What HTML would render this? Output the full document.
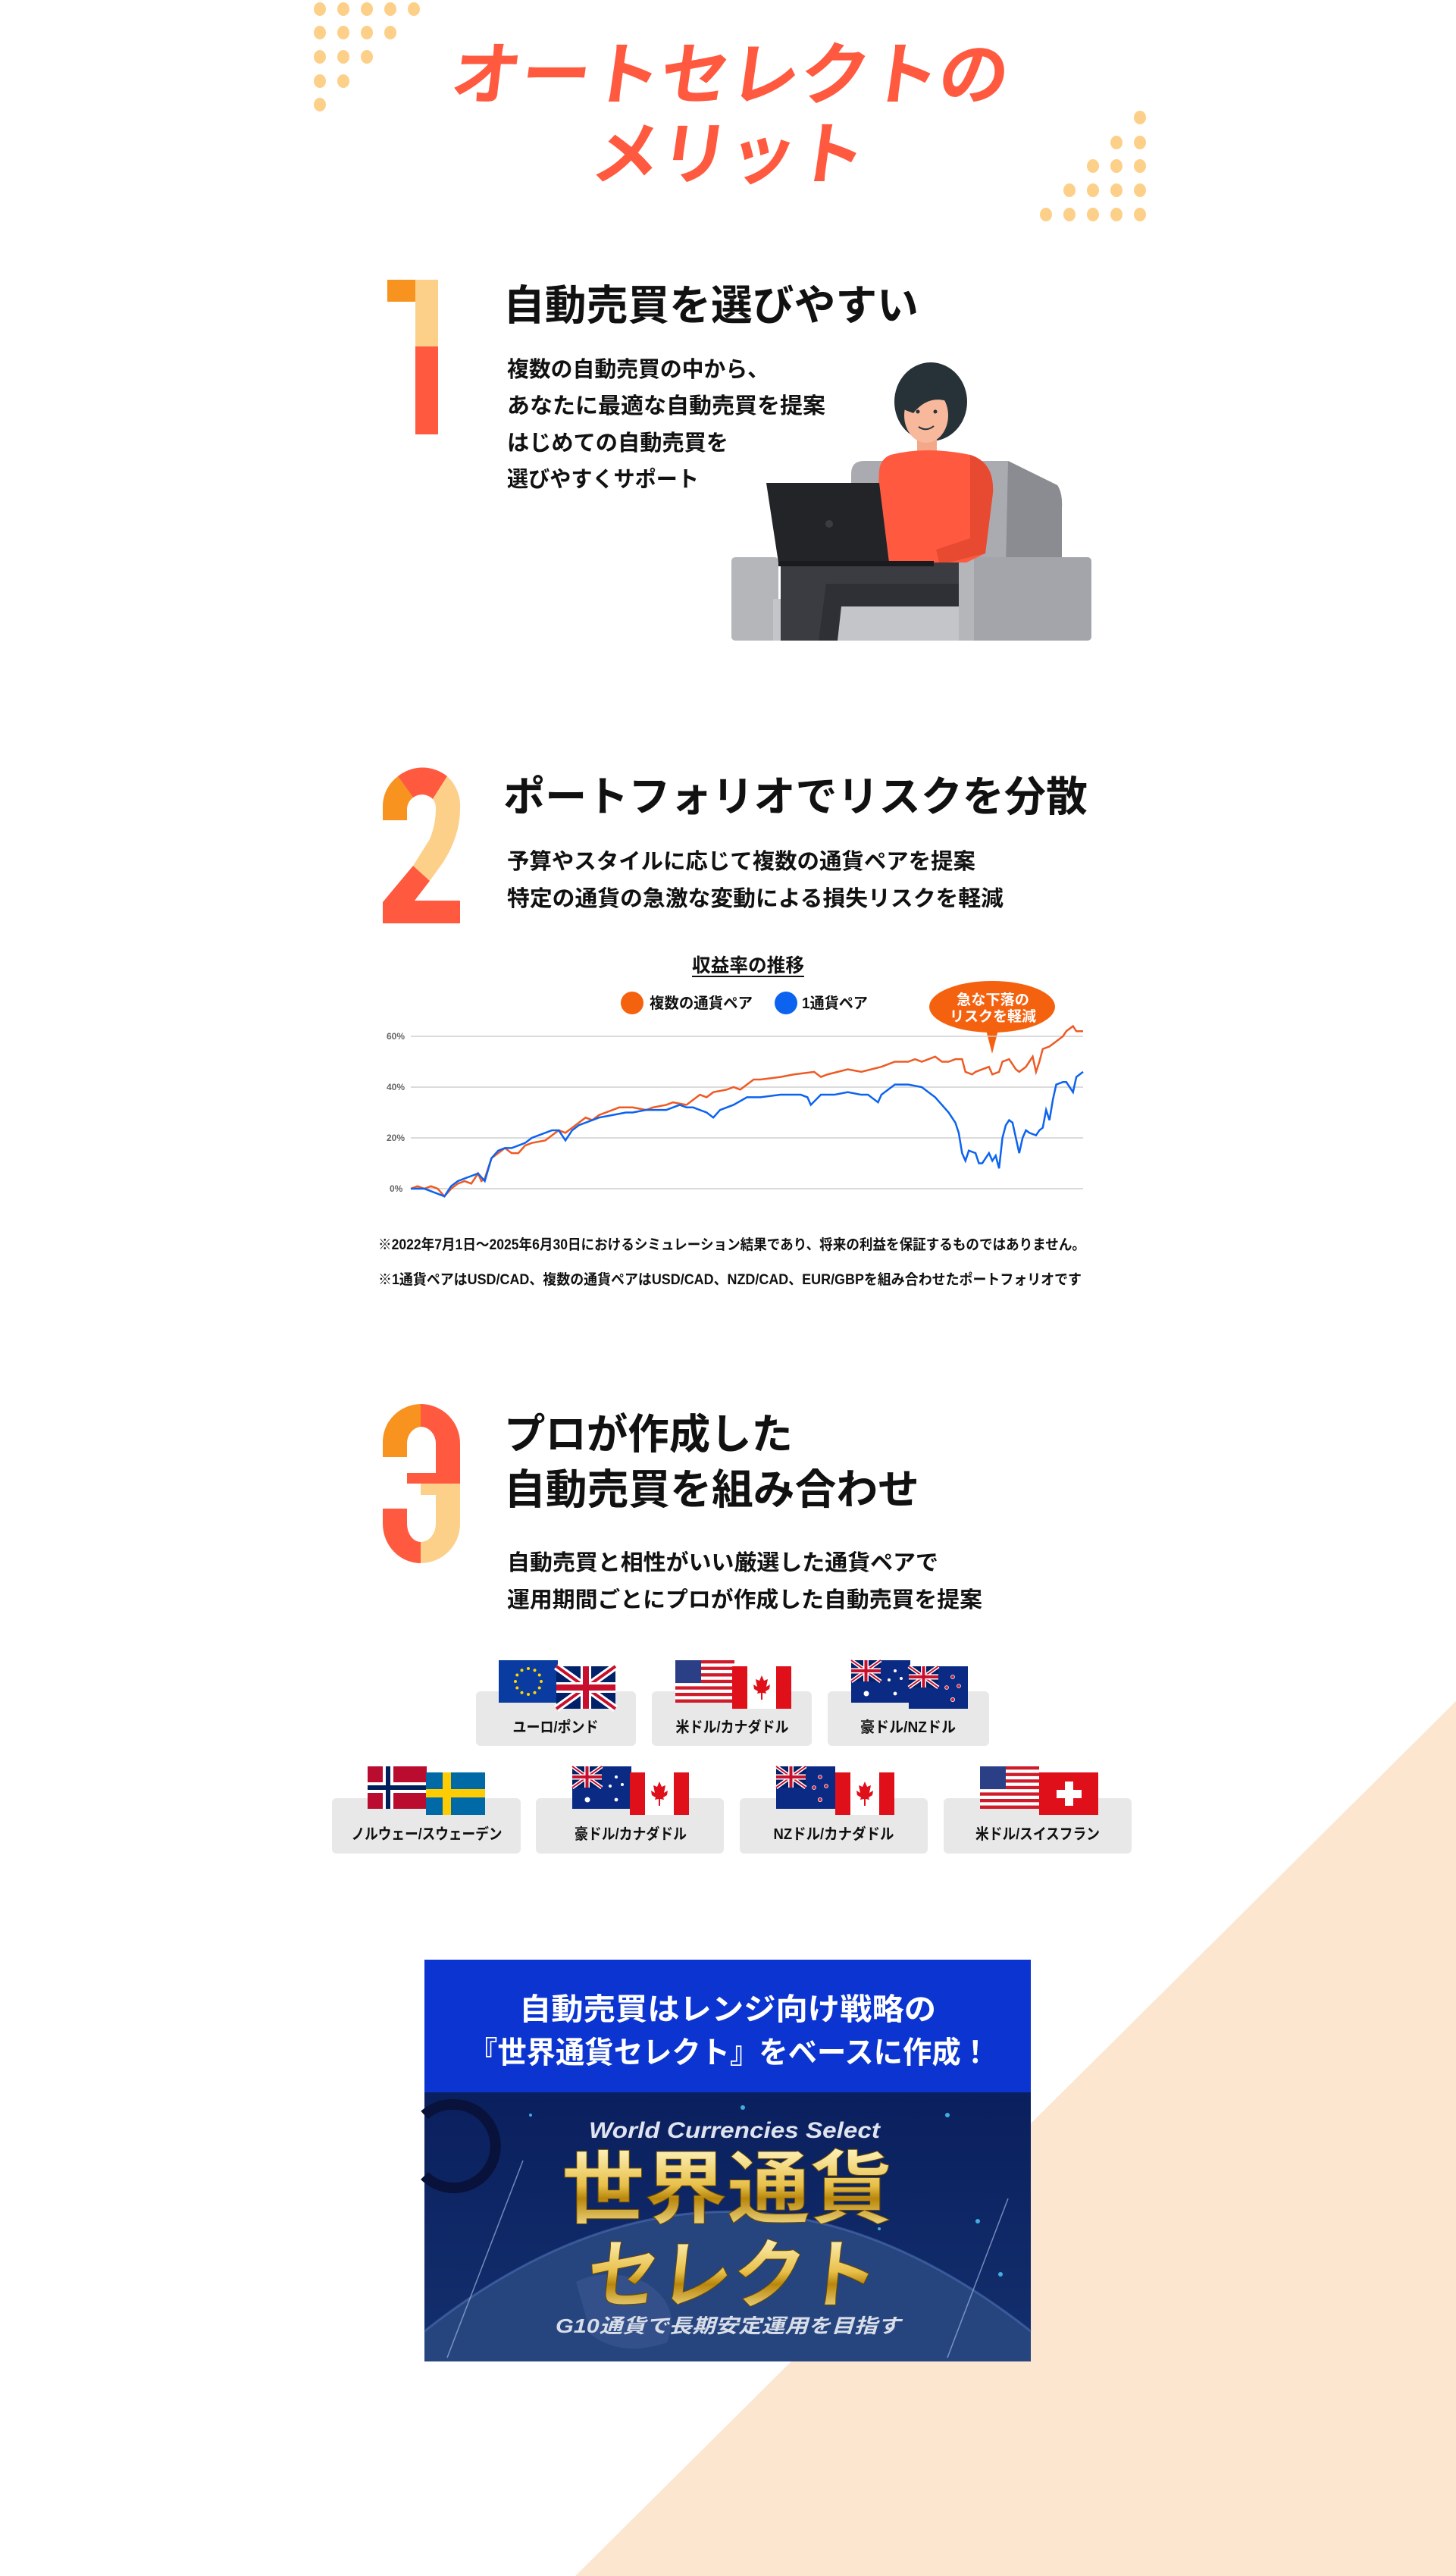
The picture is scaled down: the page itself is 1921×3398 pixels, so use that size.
<!DOCTYPE html>
<html><head><meta charset="utf-8"><style>
html,body{margin:0;padding:0;background:#fff;width:1921px;height:3398px;overflow:hidden;}
svg{display:block;}
text{font-family:"Liberation Sans","Noto Sans CJK JP",sans-serif;font-weight:bold;}
</style></head><body>
<svg width="1921" height="3398" viewBox="0 0 1921 3398" xmlns="http://www.w3.org/2000/svg">
<defs>
<linearGradient id="gold" x1="0" y1="0" x2="0" y2="1">
<stop offset="0" stop-color="#fff6c4"/><stop offset="0.45" stop-color="#e8c04a"/><stop offset="0.6" stop-color="#b8860b"/><stop offset="1" stop-color="#fff1a8"/>
</linearGradient>
<linearGradient id="navy" x1="0" y1="0" x2="0" y2="1">
<stop offset="0" stop-color="#0a1f5e"/><stop offset="1" stop-color="#14306e"/>
</linearGradient>
<g id="uk"><rect width="78" height="56" fill="#012169"/><path d="M0,0L78,56M78,0L0,56" stroke="#fff" stroke-width="10"/><path d="M0,0L78,56M78,0L0,56" stroke="#c8102e" stroke-width="4"/><path d="M39,0V56M0,28H78" stroke="#fff" stroke-width="14"/><path d="M39,0V56M0,28H78" stroke="#c8102e" stroke-width="8"/></g>
<g id="eu"><rect width="78" height="56" fill="#0a3ba0"/><g fill="#ffd700"><circle cx="39" cy="11" r="2"/><circle cx="47.5" cy="13.3" r="2"/><circle cx="53.7" cy="19.5" r="2"/><circle cx="56" cy="28" r="2"/><circle cx="53.7" cy="36.5" r="2"/><circle cx="47.5" cy="42.7" r="2"/><circle cx="39" cy="45" r="2"/><circle cx="30.5" cy="42.7" r="2"/><circle cx="24.3" cy="36.5" r="2"/><circle cx="22" cy="28" r="2"/><circle cx="24.3" cy="19.5" r="2"/><circle cx="30.5" cy="13.3" r="2"/></g></g>
<g id="us"><rect width="78" height="56" fill="#fff"/><g fill="#d01c2a"><rect y="0" width="78" height="4.3"/><rect y="8.6" width="78" height="4.3"/><rect y="17.2" width="78" height="4.3"/><rect y="25.8" width="78" height="4.3"/><rect y="34.4" width="78" height="4.3"/><rect y="43" width="78" height="4.3"/><rect y="51.6" width="78" height="4.4"/></g><rect width="34" height="30" fill="#2a3f86"/></g>
<g id="ca"><rect width="78" height="56" fill="#fff"/><rect width="20" height="56" fill="#e0101a"/><rect x="58" width="20" height="56" fill="#e0101a"/><path d="M39,12L42,19L47,17L45,27L50,24L49,30L44,33L45,36L40,35V44H38V35L33,36L34,33L29,30L28,24L33,27L31,17L36,19Z" fill="#e0101a"/></g>
<g id="au"><rect width="78" height="56" fill="#0b2a84"/><g transform="scale(0.5)"><use href="#uk"/></g><g fill="#fff"><circle cx="20" cy="44" r="3.5"/><circle cx="58" cy="14" r="2"/><circle cx="50" cy="26" r="2"/><circle cx="66" cy="24" r="2"/><circle cx="58" cy="44" r="2.4"/></g></g>
<g id="nz"><rect width="78" height="56" fill="#0b2a84"/><g transform="scale(0.5)"><use href="#uk"/></g><g fill="#d0203a" stroke="#fff" stroke-width="0.8"><circle cx="58" cy="14" r="2.4"/><circle cx="50" cy="28" r="2.4"/><circle cx="66" cy="26" r="2.4"/><circle cx="58" cy="44" r="2.6"/></g></g>
<g id="no"><rect width="78" height="56" fill="#ba0c2f"/><rect x="20" width="14" height="56" fill="#fff"/><rect y="21" width="78" height="14" fill="#fff"/><rect x="24" width="6" height="56" fill="#00205b"/><rect y="25" width="78" height="6" fill="#00205b"/></g>
<g id="se"><rect width="78" height="56" fill="#006aa7"/><rect x="22" width="11" height="56" fill="#fecc02"/><rect y="22" width="78" height="11" fill="#fecc02"/></g>
<g id="ch"><rect width="78" height="56" fill="#e0101a"/><rect x="34" y="12" width="11" height="32" fill="#fff"/><rect x="23" y="23" width="33" height="11" fill="#fff"/></g>
</defs>

<polygon points="1921,2244 1921,3398 759,3398" fill="#fce6cf"/>

<g fill="#fdd08a">
<ellipse cx="422" cy="12" rx="8" ry="9"/><ellipse cx="453" cy="12" rx="8" ry="9"/><ellipse cx="484" cy="12" rx="8" ry="9"/><ellipse cx="515" cy="12" rx="8" ry="9"/><ellipse cx="546" cy="12" rx="8" ry="9"/>
<ellipse cx="422" cy="43" rx="8" ry="9"/><ellipse cx="453" cy="43" rx="8" ry="9"/><ellipse cx="484" cy="43" rx="8" ry="9"/><ellipse cx="515" cy="43" rx="8" ry="9"/>
<ellipse cx="422" cy="75" rx="8" ry="9"/><ellipse cx="453" cy="75" rx="8" ry="9"/><ellipse cx="484" cy="75" rx="8" ry="9"/>
<ellipse cx="422" cy="107" rx="8" ry="9"/><ellipse cx="453" cy="107" rx="8" ry="9"/>
<ellipse cx="422" cy="138" rx="8" ry="9"/>
<ellipse cx="1504" cy="155" rx="8" ry="9"/>
<ellipse cx="1473" cy="188" rx="8" ry="9"/><ellipse cx="1504" cy="188" rx="8" ry="9"/>
<ellipse cx="1442" cy="219" rx="8" ry="9"/><ellipse cx="1473" cy="219" rx="8" ry="9"/><ellipse cx="1504" cy="219" rx="8" ry="9"/>
<ellipse cx="1411" cy="251" rx="8" ry="9"/><ellipse cx="1442" cy="251" rx="8" ry="9"/><ellipse cx="1473" cy="251" rx="8" ry="9"/><ellipse cx="1504" cy="251" rx="8" ry="9"/>
<ellipse cx="1380" cy="283" rx="8" ry="9"/><ellipse cx="1411" cy="283" rx="8" ry="9"/><ellipse cx="1442" cy="283" rx="8" ry="9"/><ellipse cx="1473" cy="283" rx="8" ry="9"/><ellipse cx="1504" cy="283" rx="8" ry="9"/>
</g>

<g fill="#ff5a40">
<text x="594" y="130" font-size="90" textLength="735" lengthAdjust="spacingAndGlyphs" transform="skewX(-8) translate(16,0)">オートセレクトの</text>
<text x="780" y="235" font-size="90" textLength="360" lengthAdjust="spacingAndGlyphs" transform="skewX(-8) translate(30,0)">メリット</text>
</g>

<rect x="511" y="369" width="37" height="29" fill="#f7931e"/>
<rect x="548" y="369" width="30" height="88" fill="#fdd08a"/>
<rect x="548" y="457" width="30" height="116" fill="#ff5a40"/>
<text x="664" y="422" font-size="55" textLength="548" lengthAdjust="spacingAndGlyphs" fill="#111">自動売買を選びやすい</text>
<g font-size="29" fill="#111">
<text x="669" y="497" textLength="346" lengthAdjust="spacingAndGlyphs">複数の自動売買の中から、</text>
<text x="669" y="545" textLength="420" lengthAdjust="spacingAndGlyphs">あなたに最適な自動売買を提案</text>
<text x="669" y="594" textLength="292" lengthAdjust="spacingAndGlyphs">はじめての自動売買を</text>
<text x="669" y="642" textLength="253" lengthAdjust="spacingAndGlyphs">選びやすくサポート</text>
</g>
<path d="M1128,608 H1330 L1395,640 Q1402,650 1401,670 V843 H1123 V625 Q1123,608 1140,608Z" fill="#a9abb0"/>
<path d="M1330,608 L1395,640 Q1402,650 1401,670 V843 H1325Z" fill="#8a8c92"/>
<rect x="965" y="735" width="62" height="110" rx="5" fill="#b4b6ba"/>
<rect x="1020" y="790" width="260" height="55" fill="#c3c5c9"/>
<rect x="1265" y="735" width="175" height="110" rx="5" fill="#a3a5aa"/>
<rect x="1265" y="735" width="20" height="110" fill="#b4b6ba"/>
<ellipse cx="1228" cy="530" rx="48" ry="52" fill="#263238"/>
<ellipse cx="1226" cy="500" rx="34" ry="16" fill="#263238"/>
<rect x="1210" y="570" width="26" height="35" fill="#f3a989"/>
<ellipse cx="1222" cy="548" rx="29" ry="36" fill="#f7b89c"/>
<path d="M1192,540 Q1200,500 1250,510 L1252,530 Q1225,520 1205,545Z" fill="#263238"/>
<circle cx="1211" cy="543" r="2.5" fill="#263238"/><circle cx="1234" cy="543" r="2.5" fill="#263238"/>
<path d="M1212,563 Q1222,570 1232,562" fill="none" stroke="#263238" stroke-width="2"/>
<path d="M1175,600 Q1222,588 1280,600 Q1312,610 1310,650 L1300,730 L1275,742 H1154 L1160,620 Q1162,605 1175,600Z" fill="#ff5a40"/>
<path d="M1280,600 Q1312,610 1310,650 L1300,730 L1240,745 L1235,725 L1280,710Z" fill="#e84a31"/>
<path d="M1030,742 H1265 V800 H1090 L1080,845 H1030Z" fill="#3a3c41"/>
<path d="M1090,770 H1265 V800 H1110 L1105,845 H1080Z" fill="#2e3035"/>
<path d="M1011,637 H1160 L1173,742 H1027Z" fill="#222428"/>
<rect x="1027" y="740" width="205" height="7" fill="#1a1b1e"/>
<circle cx="1094" cy="691" r="5" fill="#3a3c41"/>

<g transform="translate(505,1012)">
<path d="M0,70 V50 A51,50 0 0 1 20,12 L40,40 A20,20 0 0 0 32,55 V70 Z" fill="#f7931e"/>
<path d="M20,12 A51,50 0 0 1 85,12 L66,42 A20,20 0 0 0 40,40 Z" fill="#ff5a40"/>
<path d="M85,12 A51,52 0 0 1 102,55 Q102,90 80,125 L62,150 L40,130 L62,95 Q70,75 70,55 A20,20 0 0 0 66,42 Z" fill="#fdd08a"/>
<path d="M40,130 L62,150 L42,176 H102 V206 H0 V178 Z" fill="#ff5a40"/>
</g>
<text x="664" y="1070" font-size="55" textLength="771" lengthAdjust="spacingAndGlyphs" fill="#111">ポートフォリオでリスクを分散</text>
<g font-size="29" fill="#111">
<text x="669" y="1146" textLength="618" lengthAdjust="spacingAndGlyphs">予算やスタイルに応じて複数の通貨ペアを提案</text>
<text x="669" y="1195" textLength="655" lengthAdjust="spacingAndGlyphs">特定の通貨の急激な変動による損失リスクを軽減</text>
</g>
<text x="913" y="1282" font-size="25" textLength="148" lengthAdjust="spacingAndGlyphs" fill="#111">収益率の推移</text>
<line x1="913" y1="1288" x2="1061" y2="1288" stroke="#111" stroke-width="2"/>
<circle cx="834" cy="1323" r="15" fill="#f5620f"/>
<text x="857" y="1330" font-size="20" textLength="136" lengthAdjust="spacingAndGlyphs" fill="#111">複数の通貨ペア</text>
<circle cx="1037" cy="1323" r="15" fill="#0b63f0"/>
<text x="1058" y="1330" font-size="20" textLength="87" lengthAdjust="spacingAndGlyphs" fill="#111">1通貨ペア</text>
<ellipse cx="1309" cy="1328" rx="83" ry="34" fill="#f5620f"/>
<polygon points="1300,1355 1318,1355 1309,1390" fill="#f5620f"/>
<text x="1310" y="1325" font-size="19" text-anchor="middle" textLength="96" lengthAdjust="spacingAndGlyphs" fill="#fff">急な下落の</text>
<text x="1310" y="1347" font-size="19" text-anchor="middle" textLength="114" lengthAdjust="spacingAndGlyphs" fill="#fff">リスクを軽減</text>
<g stroke="#cfcfcf" stroke-width="1.5">
<line x1="542" y1="1367" x2="1429" y2="1367"/><line x1="542" y1="1434" x2="1429" y2="1434"/><line x1="542" y1="1501" x2="1429" y2="1501"/><line x1="542" y1="1568" x2="1429" y2="1568"/>
</g>
<g font-size="12" fill="#666" font-weight="normal">
<text x="510" y="1371">60%</text><text x="510" y="1438">40%</text><text x="510" y="1505">20%</text><text x="514" y="1572">0%</text>
</g>
<g transform="translate(542,1568) scale(887,-3.35)" fill="none">
<polyline vector-effect="non-scaling-stroke" stroke="#ee5a24" stroke-width="2.5" points="0,0 .01,1 .02,0 .03,1 .04,0 .05,-3 .06,0 .07,2 .08,3 .09,2 .1,6 .105,3 .11,4 .12,12 .13,14 .14,16 .15,14 .16,14 .17,17 .18,18 .2,19 .21,21 .22,23 .23,22 .24,24 .25,26 .26,28 .27,27 .28,29 .3,31 .31,32 .33,32 .35,31 .36,32 .38,33 .39,34 .41,33 .42,35 .43,37 .44,36 .45,38 .47,39 .48,40 .49,39 .5,41 .51,43 .52,43 .55,44 .57,45 .6,46 .61,44 .62,45 .65,47 .67,46 .7,48 .71,49 .72,50 .74,50 .75,51 .76,50 .77,51 .78,52 .79,50 .8,50 .81,51 .82,51 .825,46 .835,45 .84,46 .85,47 .86,48 .865,45 .875,46 .88,50 .89,51 .9,47 .905,46 .915,48 .92,50 .925,52 .93,46 .935,50 .94,55 .95,56 .96,58 .97,60 .975,62 .985,64 .99,62 1,62"/>
<polyline vector-effect="non-scaling-stroke" stroke="#0b63f0" stroke-width="2.5" points="0,0 .01,0 .02,0 .03,-1 .04,-2 .05,-3 .06,1 .07,3 .08,4 .09,5 .1,6 .11,3 .12,12 .13,15 .14,16 .15,16 .16,17 .17,18 .18,20 .2,22 .21,23 .22,23 .23,19 .24,23 .25,25 .27,27 .28,28 .3,29 .32,30 .33,30 .35,31 .36,31 .38,31 .4,33 .41,32 .42,32 .43,31 .44,30 .45,28 .46,31 .47,32 .48,33 .5,36 .52,36 .55,37 .58,37 .59,36 .595,33 .61,37 .63,37 .65,38 .67,37 .68,37 .695,34 .7,37 .72,41 .74,41 .76,40 .77,38 .78,36 .79,33 .8,30 .81,26 .815,22 .82,14 .825,11 .83,15 .84,14 .845,10 .85,10 .86,14 .865,11 .87,13 .875,8 .88,20 .885,25 .89,27 .895,26 .9,20 .905,14 .91,20 .915,23 .92,22 .93,21 .935,23 .94,24 .945,31 .95,27 .955,35 .96,41 .97,42 .975,42 .985,38 .99,44 .995,45 1,46"/>
</g>
<g font-size="19" fill="#111">
<text x="499" y="1648" textLength="933" lengthAdjust="spacingAndGlyphs">※2022年7月1日～2025年6月30日におけるシミュレーション結果であり、将来の利益を保証するものではありません。</text>
<text x="499" y="1694" textLength="928" lengthAdjust="spacingAndGlyphs">※1通貨ペアはUSD/CAD、複数の通貨ペアはUSD/CAD、NZD/CAD、EUR/GBPを組み合わせたポートフォリオです</text>
</g>

<g transform="translate(505,1852)">
<path d="M0,70 V50 A51,50 0 0 1 50,0 V30 A20,22 0 0 0 32,52 V70 Z" fill="#f7931e"/>
<path d="M50,0 A52,52 0 0 1 102,52 V105 H32 V91 H70 V52 A20,22 0 0 0 50,30 Z" fill="#ff5a40"/>
<path d="M50,105 H102 V158 A52,52 0 0 1 50,210 V182 A20,24 0 0 0 70,158 V120 H50 Z" fill="#fdd08a"/>
<path d="M0,138 H32 V158 A18,24 0 0 0 50,182 V210 A50,52 0 0 1 0,158 Z" fill="#ff5a40"/>
</g>
<g font-size="55" fill="#111">
<text x="665" y="1911" textLength="381" lengthAdjust="spacingAndGlyphs">プロが作成した</text>
<text x="665" y="1984" textLength="548" lengthAdjust="spacingAndGlyphs">自動売買を組み合わせ</text>
</g>
<g font-size="29" fill="#111">
<text x="669" y="2071" textLength="569" lengthAdjust="spacingAndGlyphs">自動売買と相性がいい厳選した通貨ペアで</text>
<text x="669" y="2120" textLength="627" lengthAdjust="spacingAndGlyphs">運用期間ごとにプロが作成した自動売買を提案</text>
</g>
<g fill="#e8e8e8">
<rect x="628" y="2231" width="211" height="72" rx="6"/><rect x="860" y="2231" width="211" height="72" rx="6"/><rect x="1092" y="2231" width="213" height="72" rx="6"/>
<rect x="438" y="2372" width="249" height="73" rx="6"/><rect x="707" y="2372" width="248" height="73" rx="6"/><rect x="976" y="2372" width="248" height="73" rx="6"/><rect x="1245" y="2372" width="248" height="73" rx="6"/>
</g>
<use href="#eu" x="658" y="2190"/><use href="#uk" x="734" y="2198"/>
<use href="#us" x="891" y="2190"/><use href="#ca" x="966" y="2198"/>
<use href="#au" x="1123" y="2190"/><use href="#nz" x="1199" y="2198"/>
<use href="#no" x="485" y="2330"/><use href="#se" x="562" y="2338"/>
<use href="#au" x="755" y="2330"/><use href="#ca" x="831" y="2338"/>
<use href="#nz" x="1024" y="2330"/><use href="#ca" x="1102" y="2338"/>
<use href="#us" x="1293" y="2330"/><use href="#ch" x="1371" y="2338"/>
<g font-size="20" fill="#111" text-anchor="middle">
<text x="733" y="2285" textLength="113" lengthAdjust="spacingAndGlyphs">ユーロ/ポンド</text>
<text x="966" y="2285" textLength="149" lengthAdjust="spacingAndGlyphs">米ドル/カナダドル</text>
<text x="1198" y="2285" textLength="126" lengthAdjust="spacingAndGlyphs">豪ドル/NZドル</text>
<text x="563" y="2426" textLength="199" lengthAdjust="spacingAndGlyphs">ノルウェー/スウェーデン</text>
<text x="832" y="2426" textLength="148" lengthAdjust="spacingAndGlyphs">豪ドル/カナダドル</text>
<text x="1100" y="2426" textLength="159" lengthAdjust="spacingAndGlyphs">NZドル/カナダドル</text>
<text x="1369" y="2426" textLength="164" lengthAdjust="spacingAndGlyphs">米ドル/スイスフラン</text>
</g>

<rect x="560" y="2585" width="800" height="175" fill="#0b34d1"/>
<g font-size="40" fill="#fff" text-anchor="middle">
<text x="960" y="2664" textLength="550" lengthAdjust="spacingAndGlyphs">自動売買はレンジ向け戦略の</text>
<text x="962" y="2721" textLength="688" lengthAdjust="spacingAndGlyphs">『世界通貨セレクト』をベースに作成！</text>
</g>
<rect x="560" y="2760" width="800" height="355" fill="url(#navy)"/>
<path d="M560,3115 V3075 Q960,2760 1360,3075 V3115 Z" fill="#26457f"/>
<path d="M560,3075 Q960,2760 1360,3075" fill="none" stroke="#4d6fb0" stroke-width="3" opacity="0.6"/>
<path d="M760,3010 Q800,2990 850,3010 Q900,3040 880,3090 Q820,3110 780,3080Z" fill="#33508a"/>
<path d="M560,2790 A55,55 0 0 1 600,2776 A55,55 0 1 1 560,2870" fill="none" stroke="#08123a" stroke-width="14"/>
<line x1="590" y1="3110" x2="690" y2="2850" stroke="#9fb4e0" stroke-width="1.5" opacity="0.7"/>
<line x1="1250" y1="3110" x2="1330" y2="2900" stroke="#9fb4e0" stroke-width="1.5" opacity="0.7"/>
<g fill="#4fd0ff" opacity="0.8"><circle cx="980" cy="2780" r="3"/><circle cx="1250" cy="2790" r="3"/><circle cx="1290" cy="2930" r="3"/><circle cx="700" cy="2790" r="2"/><circle cx="1320" cy="3000" r="3"/><circle cx="1160" cy="2940" r="2"/></g>
<text x="777" y="2820" font-size="30" font-style="italic" font-weight="normal" textLength="384" lengthAdjust="spacingAndGlyphs" fill="#dfe4ef">World Currencies Select</text>
<text x="741" y="2924" font-size="105" textLength="437" lengthAdjust="spacingAndGlyphs" fill="url(#gold)" stroke="#6b4a00" stroke-width="1">世界通貨</text>
<text x="770" y="3036" font-size="100" textLength="384" lengthAdjust="spacingAndGlyphs" fill="url(#gold)" stroke="#6b4a00" stroke-width="1" transform="skewX(-6) translate(320,0)">セレクト</text>
<text x="733" y="3077" font-size="26" font-style="italic" textLength="455" lengthAdjust="spacingAndGlyphs" fill="#d8dde8">G10通貨で長期安定運用を目指す</text>
</svg>
</body></html>
